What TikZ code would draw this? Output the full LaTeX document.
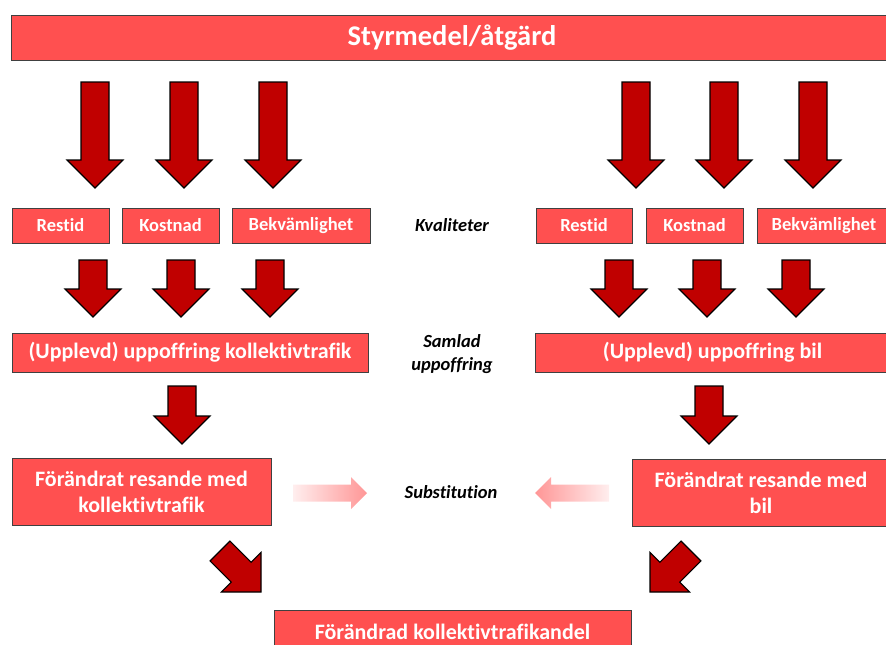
\documentclass[tikz,border=0pt]{standalone}
\usepackage{fontspec}
\setmainfont[Ligatures=NoCommon]{Carlito}
\usetikzlibrary{calc}
\definecolor{boxred}{RGB}{255,80,80}
\definecolor{arrred}{RGB}{192,0,0}
\definecolor{fadelo}{RGB}{255,238,238}
\definecolor{fadehi}{RGB}{255,150,150}

% #2 tail, #3 tip, #4 half shaft, #5 half head
\newcommand{\blockarrow}[5][blockarr]{%
  \path ($(#3)!#5!(#2)$) coordinate (bh);
  \path[#1] ($(#2)!#4!90:(#3)$) -- ($(bh)!#4!90:(#3)$) -- ($(bh)!#5!90:(#3)$) -- (#3)
    -- ($(bh)!#5!-90:(#3)$) -- ($(bh)!#4!-90:(#3)$) -- ($(#2)!#4!-90:(#3)$) -- cycle;
}

\begin{document}
\begin{tikzpicture}[x=1pt, y=-1pt,
  box/.style={draw=black!75, line width=0.8pt, fill=boxred, text=white, inner sep=0pt,
    font=\fontsize{18.5}{22}\selectfont\bfseries, minimum height=35},
  bigbox/.style={box, font=\fontsize{22}{26}\selectfont\bfseries, align=center},
  lbl/.style={font=\fontsize{18.5}{23}\selectfont\bfseries\itshape, align=center},
  blockarr/.style={draw=black, line width=1.1pt, fill=arrred, line join=miter}]
	\useasboundingbox (0,0) rectangle (886,645);

	\node[box, minimum width=882, minimum height=45, font=\fontsize{28.5}{32}\selectfont\bfseries] (top) at (452,37.5) {Styrmedel/åtgärd};

	\node[box, minimum width=97] (restidK) at (60.5,225.5) {Restid};
	\node[box, minimum width=97] (kostnadK) at (170.5,225.5) {Kostnad};
	\node[box, minimum width=138] (bekvK) at (301,225.5) {Bekvämlighet};
	\node[box, minimum width=96] (restidB) at (584,225.5) {Restid};
	\node[box, minimum width=97] (kostnadB) at (694.5,225.5) {Kostnad};
	\node[box, minimum width=134] (bekvB) at (824,225.5) {Bekvämlighet};
	\node[lbl] (kval) at (452,225) {Kvaliteter};

	\node[bigbox, minimum width=356, minimum height=39] (uppK) at (190,352.5) {(Upplevd) uppoffring kollektivtrafik};
	\node[bigbox, minimum width=355, minimum height=39] (uppB) at (712.5,352.5) {(Upplevd) uppoffring bil};
	\node[lbl] (samlad) at (452,354) {Samlad\\uppoffring};

	\node[bigbox, minimum width=259, minimum height=67] (resK) at (141.5,491.5) {Förändrat resande med\\kollektivtrafik};
	\node[bigbox, minimum width=258, minimum height=67] (resB) at (761,492.5) {Förändrat resande med\\bil};
	\node[lbl] (subst) at (451,492) {Substitution};

	\node[bigbox, minimum width=357, minimum height=44] (andel) at (452.5,632) {Förändrad kollektivtrafikandel};

	\foreach \x [count=\i] in {95,184,273,636,724,813} {
		\coordinate (ta\i) at (\x,82);
		\coordinate (ha\i) at (\x,188);
		\blockarrow{ta\i}{ha\i}{14pt}{28pt}
	}
	\foreach \x [count=\i] in {93,181,270,619,707,796} {
		\coordinate (tb\i) at (\x,260);
		\coordinate (hb\i) at (\x,317);
		\blockarrow{tb\i}{hb\i}{14pt}{28pt}
	}
	\coordinate (tcK) at (182,386);
	\coordinate (hcK) at (182,444);
	\coordinate (tcB) at (709,386);
	\coordinate (hcB) at (709,444);
	\blockarrow{tcK}{hcK}{14pt}{28pt}
	\blockarrow{tcB}{hcB}{14pt}{28pt}

	\coordinate (tdK) at (220,551);
	\coordinate (hdK) at (261,592);
	\coordinate (tdB) at (691,551);
	\coordinate (hdB) at (650,592);
	\blockarrow{tdK}{hdK}{14pt}{28pt}
	\blockarrow{tdB}{hdB}{14pt}{28pt}

	\coordinate (tsK) at (293,493);
	\coordinate (hsK) at (367,493);
	\coordinate (tsB) at (609,493);
	\coordinate (hsB) at (535,493);
	\blockarrow[left color=fadelo, right color=fadehi]{tsK}{hsK}{8.5pt}{16pt}
	\blockarrow[left color=fadehi, right color=fadelo]{tsB}{hsB}{8.5pt}{16pt}
\end{tikzpicture}
\end{document}
